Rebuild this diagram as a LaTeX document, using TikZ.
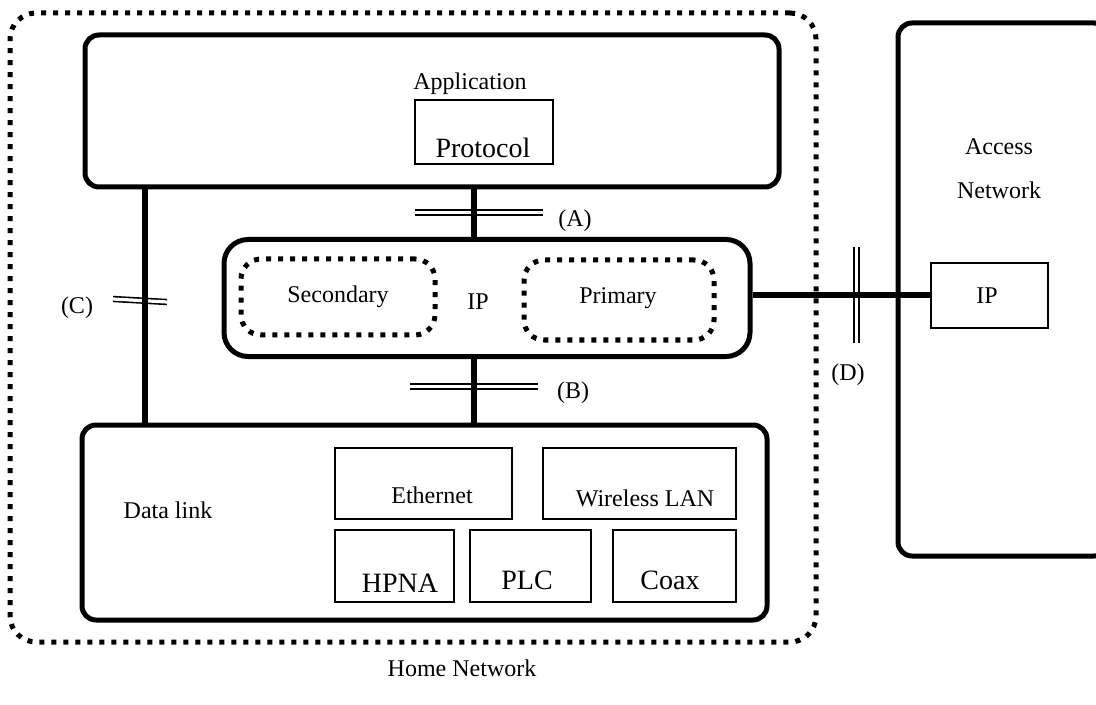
\documentclass[tikz,border=0pt]{standalone}
\usepackage{fontspec}
\setmainfont{Liberation Serif}
\usetikzlibrary{positioning}
\tikzset{
  layerbox/.style={draw, line width=2.5pt, rounded corners=7pt, inner sep=0pt},
  dotbox/.style={draw, line width=2.5pt, dash pattern=on 2.5pt off 3.5pt, rounded corners=10pt, inner sep=0pt},
  protobox/.style={draw, line width=1pt, inner sep=0pt},
  link/.style={line width=3pt},
  cut/.style={double, line width=0.8pt, double distance=1.6pt},
  big/.style={font=\fontsize{14}{16}\selectfont}
}
\begin{document}
\begin{tikzpicture}[x=0.5pt,y=-0.5pt,font=\fontsize{12}{14}\selectfont]
    \useasboundingbox (0,0) rectangle (1096,705);
    \node[dotbox, rounded corners=13pt, minimum width=403pt, minimum height=314.5pt] (home) at (413,327.5) {};
    \node at (462,668) {Home Network};

    \node[layerbox, minimum width=347pt, minimum height=76pt] (app) at (432,111) {};
    \node at (470,84) {Application};
    \node[protobox, minimum width=69pt, minimum height=32pt] (proto) at (484,132) {};
    \node[big] at (483,148) {Protocol};

    \node[layerbox, rounded corners=12pt, minimum width=263pt, minimum height=58.5pt] (ip) at (487,298) {};
    \node at (478,302) {IP};
    \node[dotbox, minimum width=97pt, minimum height=38pt] (sec) at (338,297) {};
    \node at (338,297) {Secondary};
    \node[dotbox, minimum width=95pt, minimum height=40pt] (prim) at (619,300) {};
    \node at (618,298) {Primary};

    \node[layerbox, minimum width=342.5pt, minimum height=97.5pt] (dlink) at (424.5,522.5) {};
    \node at (168,510) {Data link};
    \node[protobox, minimum width=88.5pt, minimum height=35.5pt] (eth) at (423.5,483.5) {};
    \node at (432,495) {Ethernet};
    \node[protobox, minimum width=96.5pt, minimum height=35.5pt] (wlan) at (639.5,483.5) {};
    \node at (645,498) {Wireless LAN};
    \node[protobox, minimum width=59.5pt, minimum height=36pt] (hpna) at (394.5,566) {};
    \node[big] at (400,583) {HPNA};
    \node[protobox, minimum width=60.5pt, minimum height=36pt] (plc) at (530.5,566) {};
    \node[big] at (527,580) {PLC};
    \node[protobox, minimum width=61.5pt, minimum height=36pt] (coax) at (674.5,566) {};
    \node[big] at (670,580) {Coax};

    \node[layerbox, minimum width=105pt, minimum height=266.5pt] (access) at (1003,289.5) {};
    \node at (999,147) {Access};
    \node at (999,190) {Network};
    \node[protobox, minimum width=58.5pt, minimum height=32.5pt] (aip) at (989.5,295.5) {};
    \node at (987,296) {IP};

    \coordinate (ab) at (474,0);
    \coordinate (c) at (145,0);
    \draw[cut] (415,212.5) -- (543,212.5);
    \draw[link] (ab |- app.south) -- (ab |- ip.north);
    \node at (575,221) {(A)};
    \draw[cut] (410,386.5) -- (538,386.5);
    \draw[link] (ab |- ip.south) -- (ab |- dlink.north);
    \node at (573,393) {(B)};
    \draw[cut] (113,299) -- (167,302);
    \draw[link] (c |- app.south) -- (c |- dlink.north);
    \node at (77,308) {(C)};
    \draw[cut] (856.5,247) -- (856.5,343);
    \draw[link] (ip.east |- aip.west) -- (aip.west);
    \node at (848,375) {(D)};
\end{tikzpicture}
\end{document}
